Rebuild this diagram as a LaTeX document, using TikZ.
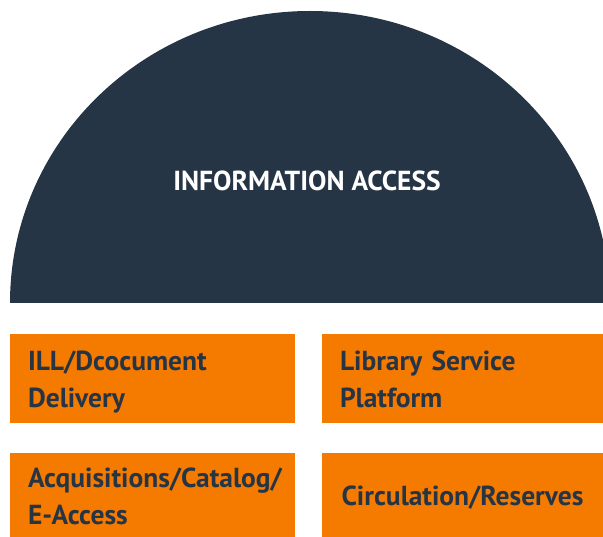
\documentclass[tikz,border=0pt]{standalone}
\usepackage{fontspec}
\setmainfont{PT Sans}
\definecolor{navy}{HTML}{263545}
\definecolor{orangebox}{HTML}{F57A00}
\newcommand{\topgap}{\rule{0pt}{32pt}}
\newcommand{\botgap}{\rule[-11pt]{0pt}{11pt}}
\tikzset{
  x=1pt, y=-1pt,
  boxnode/.style={fill=orangebox, text=navy, inner xsep=18pt, inner ysep=0pt,
    minimum height=89pt, text width=249pt, align=left,
    execute at begin node=\topgap, execute at end node=\botgap,
    font=\fontsize{27.5}{37}\selectfont\bfseries},
  rightbox/.style={text width=245pt},
  titlenode/.style={text=white, font=\fontsize{27.5}{32}\selectfont\bfseries}
}
\begin{document}
\begin{tikzpicture}
\useasboundingbox (0,0) rectangle (603,537);
\clip (0,0) rectangle (603,537);
\fill[navy] (10,303) arc[start angle=180, end angle=360, x radius=300, y radius=292] -- cycle;
\node[titlenode] (title) at (307,181) {INFORMATION ACCESS};
\node[boxnode] (ill) at (152.5,378.5) {ILL/Dcocument\\Delivery};
\node[boxnode, rightbox] (lsp) at (462.5,378.5) {Library Service\\Platform};
\node[boxnode, minimum height=84pt] (acq) at (152.5,495) {Acquisitions/Catalog/\\E-Access};
\node[boxnode, rightbox, minimum height=84pt, align=center] (circ) at (462.5,495) {Circulation/Reserves};
\end{tikzpicture}
\end{document}
